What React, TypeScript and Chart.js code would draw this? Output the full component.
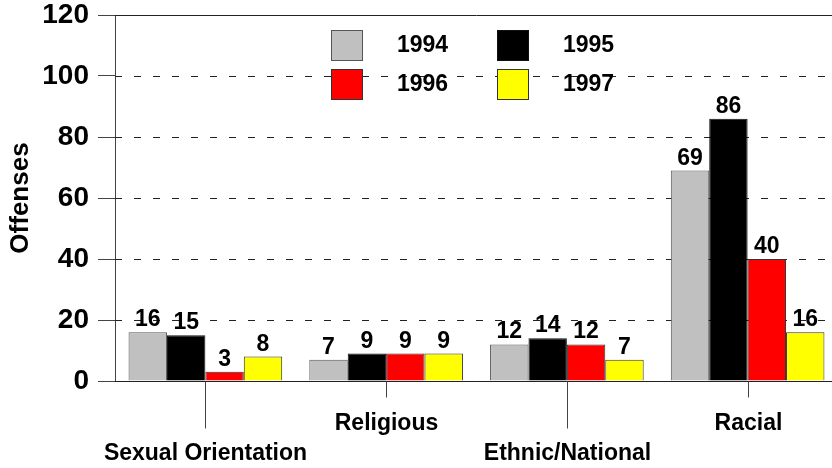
import React, { useEffect, useRef } from "react";
import { Chart, registerables } from "chart.js";

Chart.register(...registerables);

const categories = ["Sexual Orientation", "Religious", "Ethnic/National", "Racial"];
const years = ["1994", "1995", "1996", "1997"];
const y1994 = [16, 7, 12, 69];
const y1995 = [15, 9, 14, 86];
const y1996 = [3, 9, 12, 40];
const y1997 = [8, 9, 7, 16];
const yTicks = [0, 20, 40, 60, 80, 100, 120];

const fills = ["#C0C0C0", "#000000", "#FF0000", "#FFFF00"];
const borders = ["#555555", "#111111", "#333333", "#333333"];
const FONT = "'Liberation Sans', Arial, sans-serif";

const decor = {
  id: "decor",
  beforeDatasetsDraw(chart: any) {
    const { ctx, chartArea } = chart;
    const ys = chart.scales.y;
    ctx.save();
    ctx.strokeStyle = "#222";
    ctx.lineWidth = 1;
    yTicks.forEach((v) => {
      const y = Math.round(ys.getPixelForValue(v)) + 0.5;
      ctx.setLineDash(v === 0 || v === 120 ? [] : [7, 12]);
      ctx.beginPath();
      ctx.moveTo(chartArea.left, y);
      ctx.lineTo(chartArea.right, y);
      ctx.stroke();
    });
    ctx.restore();
  },
  afterDatasetsDraw(chart: any) {
    const { ctx, chartArea } = chart;
    const xs = chart.scales.x;
    const ys = chart.scales.y;
    ctx.save();
    const y0 = Math.round(ys.getPixelForValue(0)) + 0.5;
    ctx.strokeStyle = "#222";
    ctx.lineWidth = 1;
    ctx.beginPath();
    ctx.moveTo(chartArea.left, y0);
    ctx.lineTo(chartArea.right, y0);
    ctx.stroke();

    ctx.fillStyle = "#000";
    ctx.font = `bold 23px ${FONT}`;
    ctx.textAlign = "center";
    ctx.textBaseline = "alphabetic";
    chart.data.datasets.forEach((ds: any, di: number) => {
      const meta = chart.getDatasetMeta(di);
      meta.data.forEach((bar: any, i: number) => {
        ctx.fillText(String(ds.data[i]), bar.x, bar.y - 6);
      });
    });

    ctx.font = `bold 23px ${FONT}`;
    ctx.textBaseline = "middle";
    categories.forEach((c, i) => {
      const x = Math.round(xs.getPixelForValue(i)) + 0.5;
      const low = i % 2 === 0;
      ctx.strokeStyle = "#444";
      ctx.beginPath();
      ctx.moveTo(x, y0);
      ctx.lineTo(x, y0 + (low ? 47 : 16));
      ctx.stroke();
      ctx.fillText(c, x, y0 + (low ? 72 : 42));
    });

    const cols = [331, 497];
    const rows = [30, 69];
    ctx.font = `bold 23px ${FONT}`;
    ctx.textAlign = "left";
    chart.data.datasets.forEach((ds: any, di: number) => {
      const bx = cols[di % 2];
      const by = rows[Math.floor(di / 2)];
      ctx.fillStyle = ds.backgroundColor;
      ctx.fillRect(bx, by, 32, 31);
      ctx.strokeStyle = ds.borderColor;
      ctx.lineWidth = 1;
      ctx.strokeRect(bx + 0.5, by + 0.5, 31, 30);
      ctx.fillStyle = "#000";
      ctx.fillText(ds.label, bx + 66, by + 16);
    });
    ctx.restore();
  },
};

export default function App() {
  const ref = useRef<HTMLCanvasElement>(null);
  useEffect(() => {
    const series = [y1994, y1995, y1996, y1997];
    const chart = new Chart(ref.current as HTMLCanvasElement, {
      type: "bar",
      data: {
        labels: categories,
        datasets: series.map((d, i) => ({
          label: years[i],
          data: d,
          backgroundColor: fills[i],
          borderColor: borders[i],
          borderWidth: 1,
          borderSkipped: "bottom",
          categoryPercentage: 0.85,
          barPercentage: 1.0,
        })),
      },
      options: {
        animation: false,
        responsive: false,
        maintainAspectRatio: false,
        layout: { padding: { top: 15, bottom: 87, left: 0, right: 0 } },
        plugins: { legend: { display: false }, tooltip: { enabled: false } },
        scales: {
          x: {
            type: "category",
            ticks: { display: false },
            grid: { display: false },
            border: { display: false },
            afterFit: (s: any) => {
              s.height = 0;
              s.paddingLeft = 0;
              s.paddingRight = 0;
            },
          },
          y: {
            min: 0,
            max: 120,
            ticks: {
              stepSize: 20,
              padding: 9,
              color: "#000",
              font: { family: FONT, size: 28, weight: "bold", lineHeight: 1 },
            },
            grid: {
              drawOnChartArea: false,
              drawTicks: true,
              tickLength: 17,
              color: "#444",
              lineWidth: 1,
            },
            border: { display: true, color: "#444", width: 1 },
            title: {
              display: true,
              text: "Offenses",
              color: "#000",
              font: { family: FONT, size: 26, weight: "bold", lineHeight: 1.2 },
              padding: { top: 5, bottom: 0 },
            },
            afterFit: (s: any) => {
              s.width = 115;
              s.paddingTop = 0;
              s.paddingBottom = 0;
            },
          },
        },
      },
      plugins: [decor],
    });
    return () => chart.destroy();
  }, []);
  return (
    <div
      style={{
        position: "fixed",
        left: 0,
        top: 0,
        width: 832,
        height: 468,
        overflow: "hidden",
        background: "#fff",
      }}
    >
      <canvas ref={ref} width={838} height={468} style={{ width: 838, height: 468, display: "block" }} />
    </div>
  );
}
